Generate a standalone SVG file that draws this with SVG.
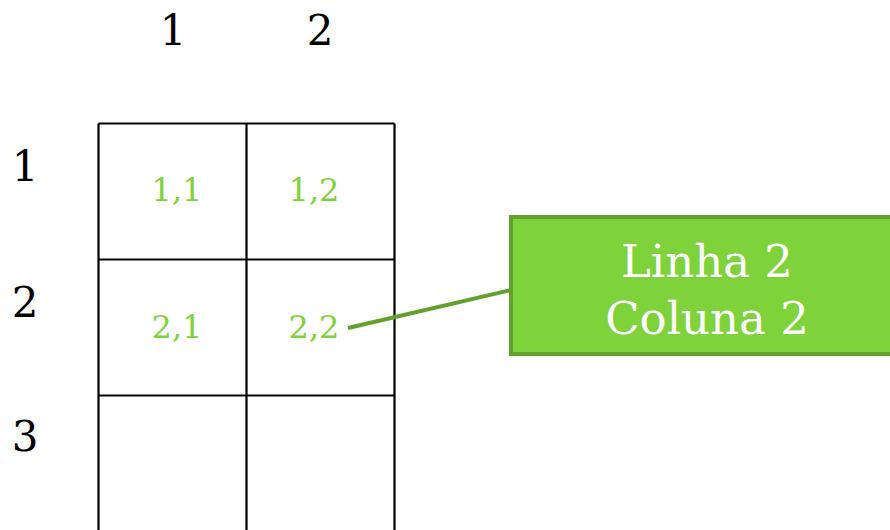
<svg xmlns="http://www.w3.org/2000/svg" width="890" height="530" viewBox="0 0 890 530">
<style>
.lbl{font-family:"DejaVu Serif","Liberation Serif",serif;fill:#000;font-size:42px;text-anchor:middle}
.cell{font-family:"DejaVu Serif","Liberation Serif",serif;fill:#7ed23a;font-size:32px;text-anchor:middle}
.box{font-family:"DejaVu Serif","Liberation Serif",serif;fill:#fff;font-size:45px;text-anchor:middle}
.grid{stroke:#000;stroke-width:2.2;fill:none}
</style>
<rect width="890" height="530" fill="#fff"/>
<g id="headers">
<text class="lbl" x="173" y="45">1</text>
<text class="lbl" x="320" y="45">2</text>
<text class="lbl" x="25" y="181">1</text>
<text class="lbl" x="25" y="317">2</text>
<text class="lbl" x="25" y="451">3</text>
</g>
<g id="grid">
<path class="grid" d="M98.5 123.5H394.5M98.5 259.5H394.5M98.5 395.5H394.5M98.5 123.5V532M246.5 123.5V532M394.5 123.5V532"/>
</g>
<g id="cells">
<text class="cell" x="177" y="201">1,1</text>
<text class="cell" x="314" y="201">1,2</text>
<text class="cell" x="177" y="338">2,1</text>
<text class="cell" x="314" y="338">2,2</text>
</g>
<g id="connectors">
<line x1="348" y1="328" x2="511" y2="290" stroke="#63a02e" stroke-width="4"/>
</g>
<g id="callout">
<rect x="511" y="217" width="384" height="137" fill="#7ed23a" stroke="#63a02e" stroke-width="4"/>
<text class="box" x="707" y="277">Linha 2</text>
<text class="box" x="707" y="334">Coluna 2</text>
</g>
</svg>
